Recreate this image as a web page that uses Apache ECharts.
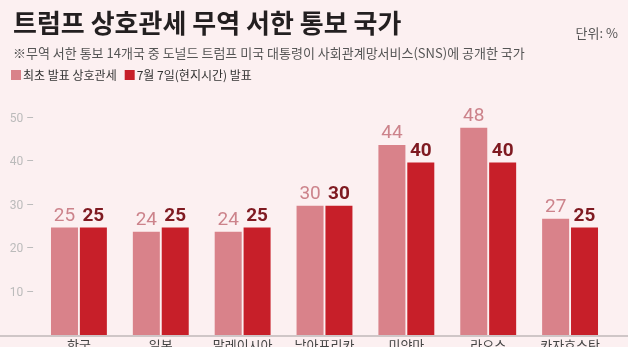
<!DOCTYPE html>
<html><head><meta charset="utf-8">
<script src="https://cdn.jsdelivr.net/npm/echarts@6/dist/echarts.min.js"></script>
<style>html,body{margin:0;padding:0;background:#fcf0f1;}#c{width:628px;height:347px;}</style>
</head><body><div id="c"></div>
<script>
const categories = ['한국', '일본', '말레이시아', '남아프리카', '미얀마', '라오스', '카자흐스탄'];
const firstTariff = [25, 24, 24, 30, 44, 48, 27];
const julyTariff = [25, 25, 25, 30, 40, 40, 25];
const seriesNames = ['최초 발표 상호관세', '7월 7일(현지시간) 발표'];
const yTicks = [0, 10, 20, 30, 40, 50];

const font = '"Noto Sans CJK KR", "Noto Sans", sans-serif';
const chart = echarts.init(document.getElementById('c'), null, {renderer: 'canvas'});
chart.setOption({
  backgroundColor: '#fcf0f1',
  animation: false,
  textStyle: {fontFamily: font},
  title: [
    {text: '트럼프 상호관세 무역 서한 통보 국가', left: 8, top: 5,
     textStyle: {fontSize: 26, fontWeight: 'bold', color: '#231f20', fontFamily: font}},
    {text: '※무역 서한 통보 14개국 중 도널드 트럼프 미국 대통령이 사회관계망서비스(SNS)에 공개한 국가', left: 8, top: 42,
     textStyle: {fontSize: 13, fontWeight: 'normal', color: '#555', fontFamily: font}},
    {text: '단위: %', right: 5, top: 22,
     textStyle: {fontSize: 13, fontWeight: 'normal', color: '#555', fontFamily: font}}
  ],
  legend: {
    left: 6, top: 64, itemWidth: 10, itemHeight: 10, itemGap: 8, icon: 'rect',
    textStyle: {fontSize: 12, color: '#333', fontFamily: font, padding: [0, 0, 0, -3]},
    data: seriesNames
  },
  grid: {left: 38, right: 17, top: 119, bottom: 11, containLabel: false, outerBoundsMode: 'none'},
  xAxis: {
    type: 'category', data: categories,
    axisLine: {show: false}, axisTick: {show: false},
    axisLabel: {margin: 3, fontSize: 13, color: '#444', fontFamily: font}
  },
  yAxis: {
    type: 'value', min: yTicks[0], max: yTicks[yTicks.length - 1], interval: 10,
    splitLine: {show: false}, axisLine: {show: false}, axisTick: {show: false},
    axisLabel: {margin: 4, fontSize: 12, color: '#bbb', fontFamily: 'Roboto, sans-serif',
      formatter: v => v === 0 ? '' : v + ' –'}
  },
  graphic: [{type: 'rect', left: 0, bottom: 10, shape: {width: 628, height: 2}, style: {fill: '#cfc6c7'}, z: 10}],
  series: [
    {name: seriesNames[0], type: 'bar', data: firstTariff, barWidth: 27, barGap: '7%', barCategoryGap: '31%',
     itemStyle: {color: '#d9828a'},
     label: {show: true, position: 'top', distance: 2, fontSize: 19, color: '#cc838b', fontFamily: 'Roboto, sans-serif'}},
    {name: seriesNames[1], type: 'bar', data: julyTariff, barWidth: 27,
     itemStyle: {color: '#c71f29'},
     label: {show: true, position: 'top', distance: 2, fontSize: 19, fontWeight: 'bold', color: '#7f1a21', fontFamily: 'Roboto, sans-serif'}}
  ]
});
</script></body></html>
